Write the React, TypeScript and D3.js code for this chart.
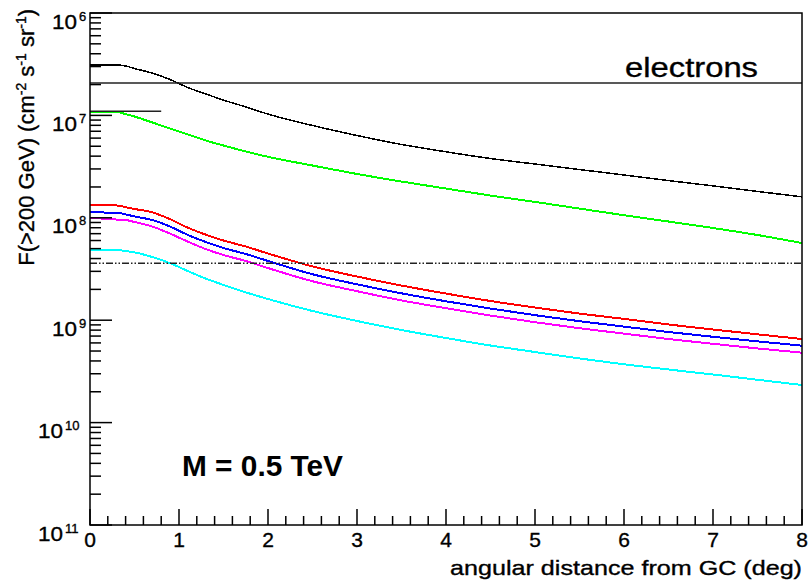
import React from "react";
import * as d3 from "d3";

// angular distance sample points (deg)
const X_DEG = [0, 0.3, 0.4, 0.5, 0.7, 0.9, 1.1, 1.3, 1.5, 1.75, 2, 2.5, 3, 3.5, 4, 4.5, 5, 5.5, 6, 6.5, 7, 7.5, 8];

// F(>200 GeV) in cm^-2 s^-1 sr^-1
const BLACK = [3.11e-7, 3.11e-7, 3.04e-7, 2.87e-7, 2.59e-7, 2.24e-7, 1.87e-7, 1.62e-7, 1.41e-7, 1.21e-7, 1.03e-7, 7.97e-8, 6.36e-8, 5.2e-8, 4.41e-8, 3.79e-8, 3.35e-8, 2.96e-8, 2.62e-8, 2.31e-8, 2.05e-8, 1.81e-8, 1.6e-8];
const GREEN = [1.09e-7, 1.08e-7, 1.03e-7, 9.75e-8, 8.53e-8, 7.45e-8, 6.51e-8, 5.69e-8, 5.08e-8, 4.44e-8, 3.94e-8, 3.24e-8, 2.68e-8, 2.26e-8, 1.93e-8, 1.65e-8, 1.43e-8, 1.23e-8, 1.06e-8, 9.2e-9, 7.95e-9, 6.79e-9, 5.67e-9];
const RED = [1.33e-8, 1.32e-8, 1.27e-8, 1.22e-8, 1.13e-8, 9.7e-9, 8.0e-9, 6.85e-9, 6.0e-9, 5.24e-9, 4.48e-9, 3.35e-9, 2.67e-9, 2.18e-9, 1.82e-9, 1.54e-9, 1.33e-9, 1.16e-9, 1.03e-9, 9.08e-10, 8.11e-10, 7.28e-10, 6.55e-10];
const BLUE = [1.13e-8, 1.12e-8, 1.08e-8, 1.03e-8, 9.52e-9, 8.2e-9, 6.8e-9, 5.8e-9, 5.07e-9, 4.43e-9, 3.79e-9, 2.81e-9, 2.24e-9, 1.83e-9, 1.53e-9, 1.3e-9, 1.12e-9, 9.78e-10, 8.66e-10, 7.67e-10, 6.89e-10, 6.21e-10, 5.64e-10];
const MAGENTA = [1.0e-8, 9.62e-9, 9.52e-9, 9.1e-9, 8.22e-9, 7.0e-9, 5.85e-9, 4.95e-9, 4.33e-9, 3.79e-9, 3.23e-9, 2.4e-9, 1.92e-9, 1.56e-9, 1.31e-9, 1.11e-9, 9.56e-10, 8.35e-10, 7.4e-10, 6.55e-10, 5.88e-10, 5.3e-10, 4.82e-10];
const CYAN = [4.85e-9, 4.85e-9, 4.74e-9, 4.6e-9, 4.14e-9, 3.6e-9, 3.02e-9, 2.55e-9, 2.21e-9, 1.87e-9, 1.61e-9, 1.23e-9, 9.83e-10, 8.02e-10, 6.7e-10, 5.66e-10, 4.89e-10, 4.23e-10, 3.71e-10, 3.3e-10, 2.95e-10, 2.62e-10, 2.33e-10];

const SERIES_VALUES = [BLACK, GREEN, RED, BLUE, MAGENTA, CYAN];
const SERIES_COLORS = ["#000000", "#00ff00", "#ff0000", "#0000ff", "#ff00ff", "#00ffff"];

// reference levels
const ELECTRON_LEVEL = 2.07e-7;
const SHORT_LEVEL = 1.1e-7;
const SHORT_END_DEG = 0.8;
const DASH_LEVEL = 3.6e-9;

// axes
const X_MAJOR = [0, 1, 2, 3, 4, 5, 6, 7, 8];
const X_LABELS = ["0", "1", "2", "3", "4", "5", "6", "7", "8"];
const Y_DECADES = [-11, -10, -9, -8, -7, -6];
const Y_EXP_LABELS = ["11", "10", "9", "8", "7", "6"];

const W = 809;
const H = 584;
const FONT = "'Liberation Sans', Arial, Helvetica, sans-serif";

export default function App() {
  const x = d3.scaleLinear().domain([0, 8]).range([90, 802]);
  const y = d3.scaleLog().domain([1e-11, 1e-6]).range([525, 13]);

  const line = d3
    .line<number>()
    .x((_, i) => x(X_DEG[i]))
    .y((d) => y(d))
    .curve(d3.curveMonotoneX);

  const xMinor: number[] = d3.range(0, 40).map((i) => i * 0.2).filter((v) => Math.abs(v - Math.round(v)) > 1e-6);
  const yMinor: number[] = [];
  Y_DECADES.slice(0, -1).forEach((k) => {
    for (let m = 2; m <= 9; m++) yMinor.push(m * Math.pow(10, k));
  });

  const textStroke = { stroke: "#000", strokeWidth: 0.35 };

  return (
    <svg width={W} height={H} style={{ position: "absolute", left: 0, top: 0, background: "#fff" }} fontFamily={FONT}>
      <rect x={0} y={0} width={W} height={H} fill="#fff" />
      {/* curves */}
      {SERIES_VALUES.map((vals, i) => (
        <path
          key={i}
          d={line(vals) || ""}
          fill="none"
          stroke={SERIES_COLORS[i]}
          strokeWidth={i === 0 ? 1.5 : 2}
          shapeRendering="crispEdges"
        />
      ))}
      {/* reference lines */}
      <line x1={x(0)} x2={x(8)} y1={y(ELECTRON_LEVEL)} y2={y(ELECTRON_LEVEL)} stroke="#222" strokeWidth={1.5} />
      <line x1={x(0)} x2={x(SHORT_END_DEG)} y1={y(SHORT_LEVEL)} y2={y(SHORT_LEVEL)} stroke="#222" strokeWidth={1.5} />
      <line
        x1={x(0)}
        x2={x(8)}
        y1={y(DASH_LEVEL)}
        y2={y(DASH_LEVEL)}
        stroke="#222"
        strokeWidth={1.3}
        strokeDasharray="7,2,1.5,2,1.5,2"
      />
      {/* frame */}
      <rect x={x(0)} y={y(1e-6)} width={x(8) - x(0)} height={y(1e-11) - y(1e-6)} fill="none" stroke="#000" strokeWidth={1.5} />
      {/* y ticks */}
      {Y_DECADES.map((k) => (
        <line key={"ym" + k} x1={x(0)} x2={x(0) + 22} y1={y(Math.pow(10, k))} y2={y(Math.pow(10, k))} stroke="#000" strokeWidth={1.5} />
      ))}
      {yMinor.map((v, i) => (
        <line key={"yn" + i} x1={x(0)} x2={x(0) + 11} y1={y(v)} y2={y(v)} stroke="#000" strokeWidth={1.5} />
      ))}
      {/* y labels */}
      {Y_DECADES.map((k, i) => {
        const ty = y(Math.pow(10, k));
        const exp = Y_EXP_LABELS[i];
        const endX = exp.length > 1 ? 64 : 78;
        return (
          <g key={"yl" + k} fill="#000" {...textStroke}>
            <text x={endX - 26} y={ty + 15.5} fontSize={21} textLength={25} lengthAdjust="spacingAndGlyphs">10</text>
            <text x={endX + 1} y={ty + 7.5} fontSize={13}>{exp}</text>
          </g>
        );
      })}
      {/* x ticks */}
      {X_MAJOR.map((v) => (
        <line key={"xm" + v} x1={x(v)} x2={x(v)} y1={y(1e-11)} y2={y(1e-11) - 16} stroke="#000" strokeWidth={1.5} />
      ))}
      {xMinor.map((v, i) => (
        <line key={"xn" + i} x1={x(v)} x2={x(v)} y1={y(1e-11)} y2={y(1e-11) - 9} stroke="#000" strokeWidth={1.5} />
      ))}
      {X_MAJOR.map((v, i) => (
        <text key={"xl" + v} x={x(v)} y={547} fontSize={21} textAnchor="middle" fill="#000" {...textStroke}>
          {X_LABELS[i]}
        </text>
      ))}
      {/* axis titles */}
      <text x={450} y={575} fontSize={21} textLength={352} lengthAdjust="spacingAndGlyphs" fill="#000" {...textStroke}>
        angular distance from GC (deg)
      </text>
      <text transform="translate(34,9) rotate(-90)" fontSize={22} textAnchor="end" fill="#000" {...textStroke}>
        F(&gt;200 GeV) (cm<tspan dy={-8} fontSize={14}>-2</tspan>
        <tspan dy={8}> s</tspan>
        <tspan dy={-8} fontSize={14}>-1</tspan>
        <tspan dy={8}> sr</tspan>
        <tspan dy={-8} fontSize={14}>-1</tspan>
        <tspan dy={8}>)</tspan>
      </text>
      {/* annotations */}
      <text x={625} y={77} fontSize={27} textLength={133} lengthAdjust="spacingAndGlyphs" fill="#000" {...textStroke}>
        electrons
      </text>
      <text x={182} y={476} fontSize={29} fontWeight="bold" textLength={161} lengthAdjust="spacingAndGlyphs" fill="#000">
        M = 0.5 TeV
      </text>
    </svg>
  );
}
